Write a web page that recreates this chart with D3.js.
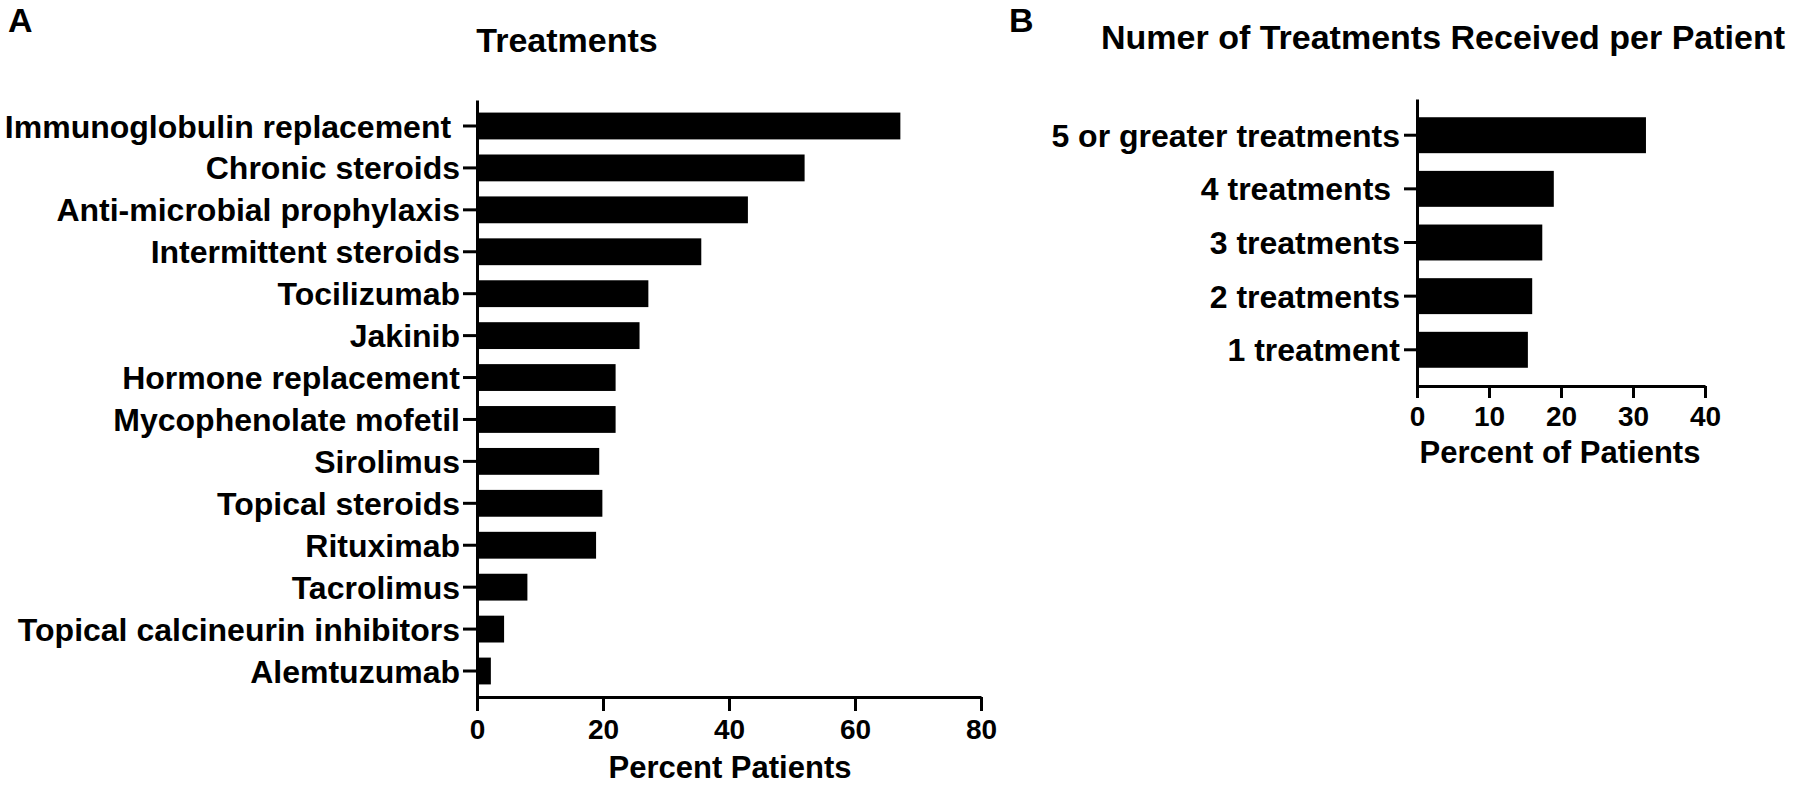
<!DOCTYPE html>
<html><head><meta charset="utf-8">
<script src="https://cdn.jsdelivr.net/npm/d3@7"></script>
<style>
body{margin:0;background:#fff}
text{font-family:"Liberation Sans",Arial,Helvetica,sans-serif;font-weight:bold;fill:#000;white-space:pre}
</style>
</head><body>
<svg id="chart" width="1800" height="786"></svg>
<script>
// ---- data ----
const treatments = ["Immunoglobulin replacement ","Chronic steroids","Anti-microbial prophylaxis","Intermittent steroids","Tocilizumab","Jakinib","Hormone replacement","Mycophenolate mofetil","Sirolimus","Topical steroids","Rituximab","Tacrolimus","Topical calcineurin inhibitors","Alemtuzumab"];
const treatmentPct = [67.2, 52.0, 43.0, 35.6, 27.2, 25.8, 22.0, 22.0, 19.4, 19.9, 18.9, 8.0, 4.3, 2.2];
const treatmentTicks = [0, 20, 40, 60, 80];

const countCategories = ["5 or greater treatments","4 treatments ","3 treatments","2 treatments","1 treatment"];
const countPct = [31.8, 19.0, 17.4, 16.0, 15.4];
const countTicks = [0, 10, 20, 30, 40];

const svg = d3.select("#chart");

function panel(opts){
  const g = svg.append("g");
  const x = d3.scaleLinear().domain(opts.xDomain).range(opts.xRange);
  const y = d3.scaleBand().domain(opts.cats).range(opts.yRange)
              .paddingInner(opts.padInner).paddingOuter(opts.padOuter);
  // bars
  g.selectAll("rect.bar").data(opts.values).join("rect")
    .attr("class","bar")
    .attr("x", x(0))
    .attr("y", (d,i)=>y(opts.cats[i]))
    .attr("width", d=>x(d)-x(0))
    .attr("height", y.bandwidth())
    .attr("fill","#000");
  // y axis
  const ya = g.append("g").attr("transform",`translate(${x(0)},0)`)
    .call(d3.axisLeft(y).tickSize(opts.yTick).tickSizeOuter(0).tickPadding(opts.yPad));
  ya.select(".domain").attr("stroke","#000").attr("stroke-width",3);
  ya.selectAll(".tick line").attr("stroke","#000").attr("stroke-width",3);
  ya.selectAll(".tick text").style("font-size",opts.catFont+"px").attr("dy","0.36em");
  // x axis
  const xa = g.append("g").attr("transform",`translate(0,${opts.yRange[1]})`)
    .call(d3.axisBottom(x).tickValues(opts.ticks).tickSize(opts.xTick).tickSizeOuter(0).tickPadding(opts.xPad));
  xa.select(".domain").attr("stroke","#000").attr("stroke-width",3);
  xa.selectAll(".tick line").attr("stroke","#000").attr("stroke-width",3);
  xa.selectAll(".tick text").style("font-size",opts.tickFont+"px");
  // axis title
  g.append("text").attr("x",opts.xTitlePos[0]).attr("y",opts.xTitlePos[1])
    .attr("text-anchor","middle").style("font-size",opts.xTitleFont+"px").text(opts.xTitle);
  // title
  g.append("text").attr("x",opts.titlePos[0]).attr("y",opts.titlePos[1])
    .attr("text-anchor","middle").style("font-size",opts.titleFont+"px").text(opts.title);
  // panel letter
  g.append("text").attr("x",opts.letterPos[0]).attr("y",opts.letterPos[1])
    .style("font-size","34px").text(opts.letter);
}

panel({
  cats: treatments, values: treatmentPct, ticks: treatmentTicks,
  xDomain:[0,80], xRange:[477,981], yRange:[100,697], padInner:0.36, padOuter:0.3,
  yTick:14, yPad:3, xTick:14, xPad:8, catFont:32, tickFont:28,
  xTitle:"Percent Patients", xTitlePos:[730,778], xTitleFont:31,
  title:"Treatments", titlePos:[567,52], titleFont:34,
  letter:"A", letterPos:[8,32]
});

panel({
  cats: countCategories, values: countPct, ticks: countTicks,
  xDomain:[0,40], xRange:[1417,1705], yRange:[99,386], padInner:0.33, padOuter:0.34,
  yTick:13, yPad:4, xTick:12, xPad:8, catFont:32, tickFont:28,
  xTitle:"Percent of Patients", xTitlePos:[1560,463], xTitleFont:31,
  title:"Numer of Treatments Received per Patient", titlePos:[1443,49], titleFont:34,
  letter:"B", letterPos:[1009,32]
});
</script>
</body></html>
